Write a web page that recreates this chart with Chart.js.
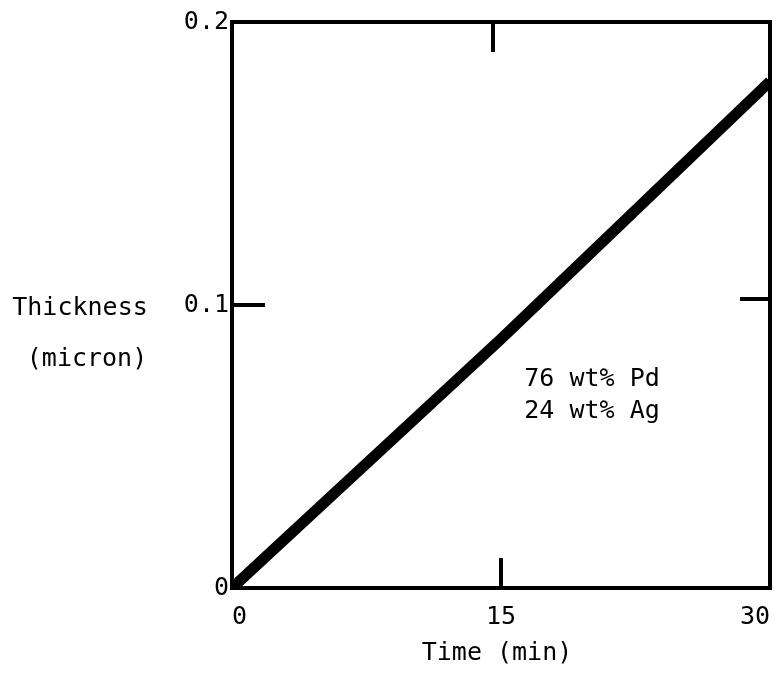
<!DOCTYPE html>
<html>
<head>
<meta charset="utf-8">
<script src="https://cdn.jsdelivr.net/npm/chart.js@4/dist/chart.umd.min.js"></script>
<style>
  html, body { margin: 0; padding: 0; background: #fff; }
  #wrap { width: 777px; height: 678px; }
</style>
</head>
<body>
<div id="wrap"><canvas id="chart" width="777" height="678"></canvas></div>
<script>
// Pd-Ag film thickness vs deposition time
const timeMin = [0, 15, 30];
const thickness = [0, 0.088, 0.179];
const xTicks = [0, 15, 30];
const yTicks = [0, 0.1, 0.2];
const yTickLabels = ['0', '0.1', '0.2'];
const notes = ['76 wt% Pd', '24 wt% Ag'];

const FONT = '"DejaVu Sans Mono", monospace';
const INK = '#000';

// frame, inner ticks and free text drawn on top of the chart
const framePlugin = {
  id: 'frame',
  afterDraw(chart) {
    const { ctx, chartArea: a, scales } = chart;
    ctx.save();
    ctx.strokeStyle = INK;
    ctx.lineWidth = 4;
    ctx.strokeRect(a.left, a.top, a.right - a.left, a.bottom - a.top);

    const tl = 30;
    xTicks.slice(1, -1).forEach(v => {
      const px = scales.x.getPixelForValue(v);
      ctx.beginPath();
      ctx.moveTo(px, a.bottom); ctx.lineTo(px, a.bottom - tl);
      ctx.moveTo(px - 8, a.top); ctx.lineTo(px - 8, a.top + tl);
      ctx.stroke();
    });
    yTicks.slice(1, -1).forEach(v => {
      const py = scales.y.getPixelForValue(v);
      ctx.beginPath();
      ctx.moveTo(a.left, py); ctx.lineTo(a.left + tl + 3, py);
      ctx.moveTo(a.right, py - 6); ctx.lineTo(a.right - tl, py - 6);
      ctx.stroke();
    });

    ctx.fillStyle = INK;
    ctx.font = '25px ' + FONT;
    ctx.textBaseline = 'middle';
    ctx.textAlign = 'center';
    ctx.fillText('Thickness', 80, 308);
    ctx.fillText('(micron)', 87, 359);
    ctx.fillText('Time (min)', 497, 653);

    ctx.textAlign = 'left';
    const nx = scales.x.getPixelForValue(16.3);
    ctx.fillText(notes[0], nx, scales.y.getPixelForValue(0.0735));
    ctx.fillText(notes[1], nx, scales.y.getPixelForValue(0.0622));
    ctx.restore();
  }
};

new Chart(document.getElementById('chart'), {
  type: 'scatter',
  data: {
    datasets: [{
      data: timeMin.map((t, i) => ({ x: t, y: thickness[i] })),
      showLine: true,
      borderColor: INK,
      borderWidth: 11,
      pointRadius: 0,
      fill: false,
      tension: 0
    }]
  },
  options: {
    responsive: false,
    animation: false,
    layout: { padding: { top: 22, right: 7, left: 0, bottom: 0 } },
    plugins: { legend: { display: false }, tooltip: { enabled: false } },
    scales: {
      x: {
        type: 'linear',
        min: 0, max: 30,
        afterFit: s => { s.height = 90; s.paddingLeft = 0; s.paddingRight = 0; },
        afterBuildTicks: s => { s.ticks = xTicks.map(v => ({ value: v })); },
        grid: { display: false, drawTicks: false },
        border: { display: false },
        ticks: { color: INK, padding: 14, align: 'inner', autoSkip: false, maxRotation: 0, font: { family: FONT, size: 25 } }
      },
      y: {
        type: 'linear',
        min: 0, max: 0.2,
        afterFit: s => { s.width = 232; s.paddingTop = 0; s.paddingBottom = 0; },
        afterBuildTicks: s => { s.ticks = yTicks.map(v => ({ value: v })); },
        grid: { display: false, drawTicks: false },
        border: { display: false },
        ticks: {
          color: INK, padding: 3, font: { family: FONT, size: 25 },
          callback: (v, i) => yTickLabels[i]
        }
      }
    }
  },
  plugins: [framePlugin]
});
</script>
</body>
</html>
